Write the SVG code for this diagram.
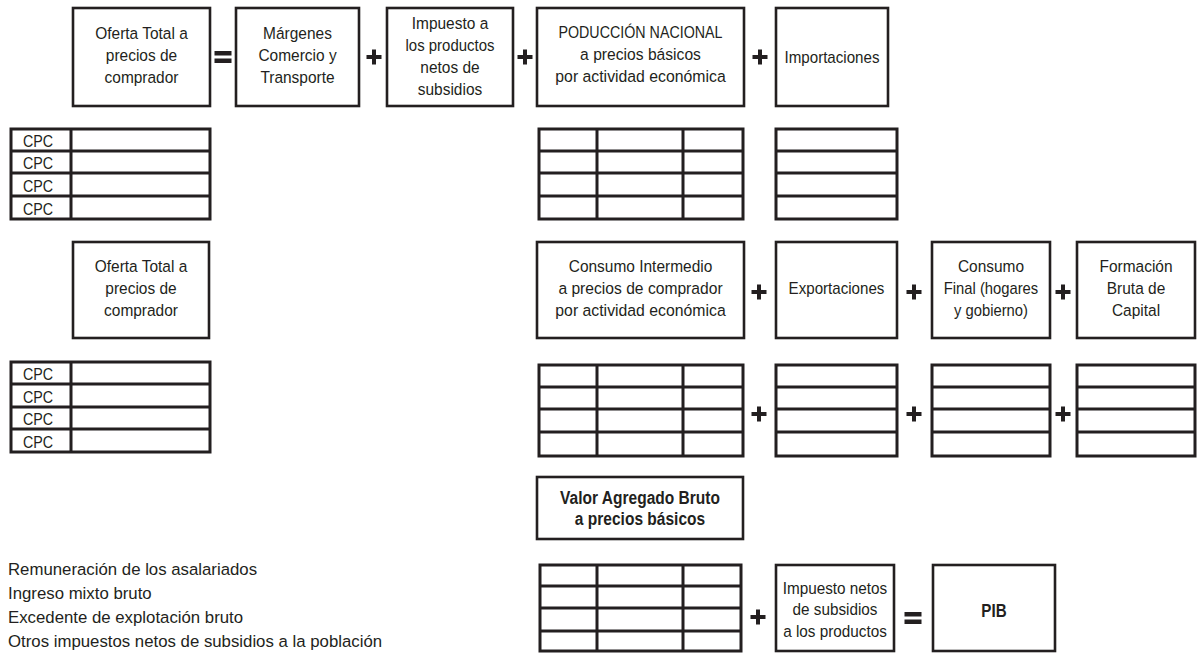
<svg xmlns="http://www.w3.org/2000/svg" width="1202" height="653" viewBox="0 0 1202 653">
<style>
.b{fill:#fff;stroke:#231f20;stroke-width:2.6}
.t{fill:none;stroke:#231f20;stroke-width:3}
.n{font-family:"Liberation Sans",Arial,sans-serif;font-size:17px;fill:#231f20;text-anchor:middle}
.nb{font-family:"Liberation Sans",Arial,sans-serif;font-size:18.5px;font-weight:bold;fill:#231f20;text-anchor:middle}
.c{font-family:"Liberation Sans",Arial,sans-serif;font-size:17px;fill:#231f20}
.s{font-family:"Liberation Sans",Arial,sans-serif;font-size:16.8px;fill:#231f20}
.op{fill:#231f20}
</style>
<defs>
<path id="plus" class="op" d="M-7.5,-2h15v4h-15z M-2,-7.5h4v15h-4z"/>
<path id="eq" class="op" d="M-8.5,-6h17v4.5h-17z M-8.5,1.5h17v4.5h-17z"/>
</defs>
<rect width="1202" height="653" fill="#fff"/>

<g id="oferta1"><rect class="b" x="73" y="8" width="137" height="98"/>
<text class="n" transform="translate(141.5,0) scale(0.91,1)" y="39">Oferta Total a</text><text class="n" transform="translate(141.5,0) scale(0.91,1)" y="61">precios de</text><text class="n" transform="translate(141.5,0) scale(0.91,1)" y="83">comprador</text></g>
<g id="margenes"><rect class="b" x="236" y="8" width="123" height="98"/>
<text class="n" transform="translate(297.5,0) scale(0.91,1)" y="39">Márgenes</text><text class="n" transform="translate(297.5,0) scale(0.91,1)" y="61">Comercio y</text><text class="n" transform="translate(297.5,0) scale(0.91,1)" y="83">Transporte</text></g>
<g id="impuesto"><rect class="b" x="387" y="8" width="126" height="98"/>
<text class="n" transform="translate(450,0) scale(0.91,1)" y="29">Impuesto a</text><text class="n" transform="translate(450,0) scale(0.88,1)" y="51">los productos</text><text class="n" transform="translate(450,0) scale(0.91,1)" y="73">netos de</text><text class="n" transform="translate(450,0) scale(0.91,1)" y="95">subsidios</text></g>
<g id="produccion"><rect class="b" x="537" y="8" width="207" height="98"/>
<text class="n" transform="translate(640.5,0) scale(0.84,1)" y="38">PODUCCIÓN NACIONAL</text><text class="n" transform="translate(640.5,0) scale(0.92,1)" y="60">a precios básicos</text><text class="n" transform="translate(640.5,0) scale(0.93,1)" y="82">por actividad económica</text></g>
<g id="importaciones"><rect class="b" x="776" y="8" width="112" height="98"/>
<text class="n" transform="translate(832,0) scale(0.89,1)" y="63">Importaciones</text></g>

<g id="tablaCPC1">
<rect class="t" x="11" y="129" width="199" height="90"/>
<path class="t" d="M71,129V219 M11,151H210 M11,173H210 M11,196H210"/>
<text class="c" transform="translate(23,0) scale(0.84,1)" y="147.5">CPC</text><text class="c" transform="translate(23,0) scale(0.84,1)" y="169.5">CPC</text><text class="c" transform="translate(23,0) scale(0.84,1)" y="192.5">CPC</text><text class="c" transform="translate(23,0) scale(0.84,1)" y="215.5">CPC</text>
</g>
<g id="tablaProduccion">
<rect class="t" x="539" y="129" width="204" height="90"/>
<path class="t" d="M597,129V219 M683,129V219 M539,151H743 M539,173H743 M539,196H743"/>
</g>
<g id="tablaImportaciones">
<rect class="t" x="776" y="129" width="121" height="90"/>
<path class="t" d="M776,151H897 M776,173H897 M776,196H897"/>
</g>

<g id="oferta2"><rect class="b" x="73" y="242" width="136" height="96"/>
<text class="n" transform="translate(141,0) scale(0.91,1)" y="272">Oferta Total a</text><text class="n" transform="translate(141,0) scale(0.91,1)" y="294">precios de</text><text class="n" transform="translate(141,0) scale(0.91,1)" y="316">comprador</text></g>
<g id="consumoIntermedio"><rect class="b" x="537" y="242" width="207" height="96"/>
<text class="n" transform="translate(640.5,0) scale(0.91,1)" y="272">Consumo Intermedio</text><text class="n" transform="translate(640.5,0) scale(0.92,1)" y="294">a precios de comprador</text><text class="n" transform="translate(640.5,0) scale(0.93,1)" y="316">por actividad económica</text></g>
<g id="exportaciones"><rect class="b" x="776" y="242" width="121" height="96"/>
<text class="n" transform="translate(836.5,0) scale(0.89,1)" y="294">Exportaciones</text></g>
<g id="consumoFinal"><rect class="b" x="932" y="242" width="118" height="96"/>
<text class="n" transform="translate(991,0) scale(0.91,1)" y="272">Consumo</text><text class="n" transform="translate(991,0) scale(0.87,1)" y="294">Final (hogares</text><text class="n" transform="translate(991,0) scale(0.87,1)" y="316">y gobierno)</text></g>
<g id="formacion"><rect class="b" x="1077" y="242" width="118" height="96"/>
<text class="n" transform="translate(1136,0) scale(0.91,1)" y="272">Formación</text><text class="n" transform="translate(1136,0) scale(0.91,1)" y="294">Bruta de</text><text class="n" transform="translate(1136,0) scale(0.91,1)" y="316">Capital</text></g>

<g id="tablaCPC2">
<rect class="t" x="11" y="362" width="199" height="90"/>
<path class="t" d="M71,362V452 M11,384H210 M11,407H210 M11,429H210"/>
<text class="c" transform="translate(23,0) scale(0.84,1)" y="380.5">CPC</text><text class="c" transform="translate(23,0) scale(0.84,1)" y="403">CPC</text><text class="c" transform="translate(23,0) scale(0.84,1)" y="425.5">CPC</text><text class="c" transform="translate(23,0) scale(0.84,1)" y="448.5">CPC</text>
</g>
<g id="tablaCI">
<rect class="t" x="539" y="365" width="204" height="91"/>
<path class="t" d="M597,365V456 M683,365V456 M539,387H743 M539,409H743 M539,432H743"/>
</g>
<g id="tablaExp">
<rect class="t" x="776" y="365" width="121" height="91"/>
<path class="t" d="M776,387H897 M776,409H897 M776,432H897"/>
</g>
<g id="tablaCF">
<rect class="t" x="932" y="365" width="118" height="91"/>
<path class="t" d="M932,387H1050 M932,409H1050 M932,432H1050"/>
</g>
<g id="tablaFBK">
<rect class="t" x="1077" y="365" width="118" height="91"/>
<path class="t" d="M1077,387H1195 M1077,409H1195 M1077,432H1195"/>
</g>

<g id="vab"><rect class="b" x="537" y="477" width="206" height="62"/>
<text class="nb" transform="translate(640,0) scale(0.84,1)" y="504">Valor Agregado Bruto</text><text class="nb" transform="translate(640,0) scale(0.84,1)" y="525">a precios básicos</text></g>
<g id="tablaVAB">
<rect class="t" x="540" y="565" width="201" height="86"/>
<path class="t" d="M597,565V651 M683,565V651 M540,586H741 M540,608H741 M540,631H741"/>
</g>
<g id="impuestoNetos"><rect class="b" x="776" y="565" width="118" height="86"/>
<text class="n" transform="translate(835,0) scale(0.9,1)" y="594">Impuesto netos</text><text class="n" transform="translate(835,0) scale(0.9,1)" y="615">de subsidios</text><text class="n" transform="translate(835,0) scale(0.9,1)" y="637">a los productos</text></g>
<g id="pib"><rect class="b" x="933" y="565" width="122" height="86"/>
<text class="nb" transform="translate(994,0) scale(0.82,1)" y="617">PIB</text></g>

<g id="componentes">
<text class="s" x="8" y="575">Remuneración de los asalariados</text>
<text class="s" x="8" y="599">Ingreso mixto bruto</text>
<text class="s" x="8" y="623">Excedente de explotación bruto</text>
<text class="s" x="8" y="647">Otros impuestos netos de subsidios a la población</text>
</g>

<g id="connectors">
<use href="#eq" x="223" y="57"/>
<use href="#plus" x="374" y="57"/>
<use href="#plus" x="525" y="57"/>
<use href="#plus" x="760" y="57"/>
<use href="#plus" x="759" y="292"/>
<use href="#plus" x="914" y="292"/>
<use href="#plus" x="1063" y="292"/>
<use href="#plus" x="759" y="414"/>
<use href="#plus" x="914" y="414"/>
<use href="#plus" x="1063" y="414"/>
<use href="#plus" x="758" y="617"/>
<use href="#eq" x="913" y="618"/>
</g>
</svg>
